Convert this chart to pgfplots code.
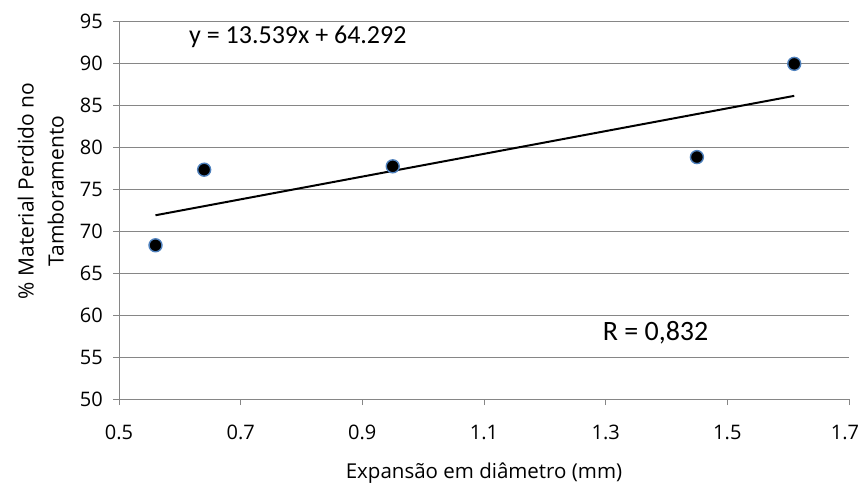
\documentclass[border=0pt]{standalone}
\usepackage{fontspec}
\setmainfont{Open Sans}
\newfontfamily\calfont{Carlito}
\usepackage{pgfplots}
\pgfplotsset{compat=1.18}
\definecolor{gridc}{HTML}{868686}
\definecolor{mblue}{HTML}{4F81BD}
\begin{document}
\fontsize{21bp}{25bp}\selectfont
\begin{tikzpicture}
\begin{axis}[
  name=ax,
  scale only axis,
  width=730bp, height=378bp,
  xmin=0.5, xmax=1.7, ymin=50, ymax=95,
  xtick={0.5,0.7,...,1.71}, ytick={50,55,...,95},
  xticklabels={0.5,0.7,0.9,1.1,1.3,1.5,\hspace*{-8bp}1.7},
  /pgf/number format/assume math mode=true,
  axis x line=bottom, axis y line=left,
  axis line style={gridc, line width=1pt, -},
  tick style={gridc, line width=1pt},
  tick align=outside, major tick length=6bp,
  ymajorgrids, major grid style={gridc, line width=1pt},
  ticklabel style={font=\fontsize{20bp}{24bp}\selectfont, text=black},
  xticklabel style={yshift=-13bp},
  yticklabel style={xshift=-3bp},
  xlabel={Expansão em diâmetro (mm)},
  ylabel={\% Material Perdido no\\Tamboramento},
  ylabel style={align=center, font=\fontsize{21bp}{30bp}\selectfont, at={(ticklabel cs:0.55)}, yshift=2bp},
  xlabel style={font=\fontsize{20.5bp}{25bp}\selectfont, yshift=-9bp},
  clip=false,
]
\addplot[black, line width=2pt] coordinates {(0.56,71.874) (1.61,86.090)};
\addplot[only marks, mark=*, mark size=6.5bp, mark options={fill=black, draw=mblue, line width=1.4pt}] coordinates {
(0.56,68.3) (0.64,77.3) (0.95,77.7) (1.45,78.8) (1.61,89.9)};
\node[font=\calfont\fontsize{26bp}{30bp}\selectfont] at (axis cs:0.794,93.1) {y = 13.539x + 64.292};
\node[font=\calfont\fontsize{28bp}{32bp}\selectfont] at (axis cs:1.382,57.9) {R = 0,832};
\end{axis}
\pgfresetboundingbox
\path[use as bounding box] ([shift={(-119bp,-87bp)}]ax.south west) rectangle ([shift={(12bp,21bp)}]ax.north east);
\end{tikzpicture}
\end{document}
